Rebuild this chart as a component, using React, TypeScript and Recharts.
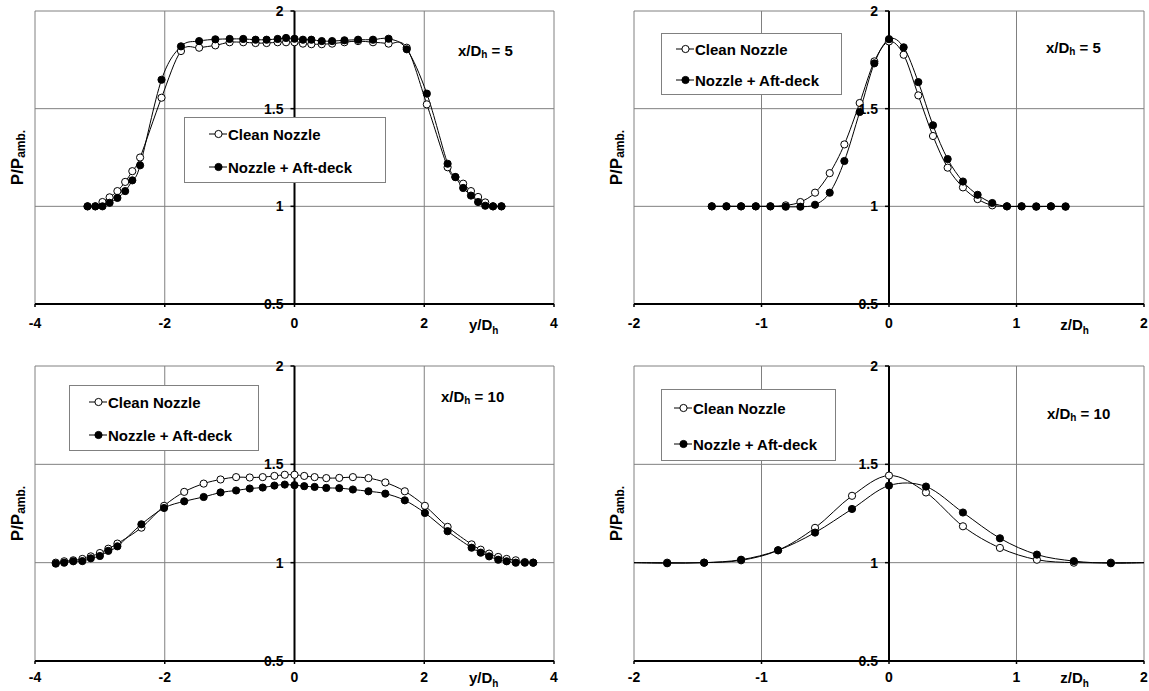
import React from "react";
import {
  LineChart,
  Line,
  XAxis,
  YAxis,
  CartesianGrid,
  ReferenceLine,
  Legend,
  Customized,
} from "recharts";

const FONT = "'Liberation Sans', Arial, Helvetica, sans-serif";

// P/Pamb. profiles
const p1X = [-3.19, -3.07, -2.96, -2.85, -2.73, -2.61, -2.5, -2.38, -2.05, -1.75, -1.47, -1.22, -1.0, -0.79, -0.6, -0.43, -0.26, -0.13, 0, 0.13, 0.26, 0.42, 0.58, 0.77, 0.98, 1.21, 1.45, 1.73, 2.04, 2.36, 2.48, 2.6, 2.72, 2.83, 2.94, 3.06, 3.19];
const p1Clean = [1.0, 1.0, 1.022, 1.046, 1.078, 1.125, 1.18, 1.25, 1.556, 1.795, 1.812, 1.824, 1.84, 1.84, 1.836, 1.836, 1.84, 1.84, 1.84, 1.833, 1.83, 1.83, 1.833, 1.84, 1.846, 1.84, 1.833, 1.812, 1.522, 1.2, 1.15, 1.116, 1.078, 1.048, 1.02, 1.0, 1.0];
const p1Deck = [1.0, 1.0, 1.0, 1.018, 1.043, 1.078, 1.133, 1.21, 1.648, 1.819, 1.846, 1.855, 1.857, 1.857, 1.853, 1.853, 1.857, 1.862, 1.858, 1.853, 1.853, 1.846, 1.846, 1.85, 1.853, 1.853, 1.858, 1.804, 1.577, 1.218, 1.15, 1.094, 1.055, 1.022, 1.003, 1.0, 1.0];

const p2X = [-1.39, -1.275, -1.16, -1.045, -0.93, -0.81, -0.695, -0.58, -0.465, -0.35, -0.23, -0.115, 0, 0.115, 0.23, 0.345, 0.46, 0.58, 0.695, 0.81, 0.925, 1.04, 1.155, 1.27, 1.385];
const p2Clean = [1, 1, 1, 1, 1, 1.005, 1.022, 1.07, 1.17, 1.317, 1.529, 1.742, 1.844, 1.776, 1.568, 1.36, 1.198, 1.097, 1.037, 1.005, 1, 1, 1, 1, 1];
const p2Deck = [1, 1, 1, 1, 1, 0.998, 0.998, 1.008, 1.07, 1.232, 1.483, 1.732, 1.856, 1.814, 1.636, 1.415, 1.242, 1.127, 1.059, 1.017, 1, 1, 0.998, 1, 0.998];

const p3X = [-3.68, -3.55, -3.41, -3.27, -3.14, -3.0, -2.87, -2.73, -2.36, -2.01, -1.7, -1.4, -1.14, -0.9, -0.69, -0.49, -0.31, -0.15, 0, 0.15, 0.31, 0.49, 0.69, 0.9, 1.14, 1.4, 1.7, 2.01, 2.36, 2.73, 2.87, 3.0, 3.14, 3.27, 3.41, 3.55, 3.68];
const p3Clean = [1.0, 1.007, 1.012, 1.019, 1.032, 1.049, 1.071, 1.097, 1.178, 1.289, 1.36, 1.402, 1.423, 1.435, 1.433, 1.435, 1.441, 1.447, 1.447, 1.441, 1.435, 1.43, 1.431, 1.435, 1.43, 1.408, 1.363, 1.289, 1.182, 1.093, 1.066, 1.046, 1.029, 1.019, 1.012, 1.003, 1.0];
const p3Deck = [0.995, 1.0, 1.007, 1.008, 1.022, 1.034, 1.06, 1.083, 1.195, 1.278, 1.312, 1.334, 1.357, 1.367, 1.377, 1.382, 1.392, 1.397, 1.394, 1.389, 1.385, 1.38, 1.379, 1.372, 1.363, 1.351, 1.317, 1.253, 1.16, 1.076, 1.051, 1.032, 1.015, 1.007, 1.0, 1.0, 1.0];

const p4X = [-2.03, -1.74, -1.45, -1.16, -0.87, -0.58, -0.29, 0, 0.29, 0.58, 0.87, 1.16, 1.45, 1.74, 2.03];
const p4Clean = [1, 1, 1, 1.012, 1.063, 1.177, 1.34, 1.443, 1.357, 1.185, 1.075, 1.015, 1, 1, 1];
const p4Deck = [1, 0.997, 1, 1.015, 1.063, 1.153, 1.273, 1.392, 1.387, 1.255, 1.124, 1.041, 1.008, 0.997, 1];

const yTicks = [0.5, 1, 1.5, 2];
const xTicksWide = [-4, -2, 0, 2, 4];
const xTicksNarrow = [-2, -1, 0, 1, 2];

const rows = (xs: number[], clean: number[], deck: number[]) =>
  xs.map((x, i) => ({ x, clean: clean[i], deck: deck[i] }));

// Excel-style smoothed line (uniform Catmull-Rom as cubic beziers)
const excelSmooth = (context: any) => {
  let pts: number[][] = [];
  return {
    areaStart() {},
    areaEnd() {},
    lineStart() {
      pts = [];
    },
    point(x: number, y: number) {
      pts.push([+x, +y]);
    },
    lineEnd() {
      if (!pts.length) return;
      context.moveTo(pts[0][0], pts[0][1]);
      for (let i = 0; i < pts.length - 1; i++) {
        const p0 = pts[Math.max(i - 1, 0)];
        const p1 = pts[i];
        const p2 = pts[i + 1];
        const p3 = pts[Math.min(i + 2, pts.length - 1)];
        context.bezierCurveTo(
          p1[0] + (p2[0] - p0[0]) / 6,
          p1[1] + (p2[1] - p0[1]) / 6,
          p2[0] - (p3[0] - p1[0]) / 6,
          p2[1] - (p3[1] - p1[1]) / 6,
          p2[0],
          p2[1]
        );
      }
    },
  };
};

const panels = [
  {
    left: 0, top: 0, w: 575, h: 345,
    margin: { top: 11, right: 21, bottom: 11, left: 34 },
    domain: [-4, 4], ticks: xTicksWide, data: rows(p1X, p1Clean, p1Deck),
    axis: "y", note: "5", noteX: 458, noteY: 50, tickGap: 11, titleDy: 26,
    legend: { left: 184, top: 117, w: 202, h: 66, pad: 25, row: 16, gap: 33 },
  },
  {
    left: 575, top: 0, w: 574, h: 345,
    margin: { top: 11, right: 5, bottom: 11, left: 58 },
    domain: [-2, 2], ticks: xTicksNarrow, data: rows(p2X, p2Clean, p2Deck),
    axis: "z", note: "5", noteX: 471, noteY: 47, tickGap: 11, titleDy: 26,
    legend: { left: 86, top: 33, w: 181, h: 62, pad: 15, row: 15, gap: 31 },
  },
  {
    left: 0, top: 345, w: 575, h: 346,
    margin: { top: 21, right: 21, bottom: 0, left: 34 },
    domain: [-4, 4], ticks: xTicksWide, data: rows(p3X, p3Clean, p3Deck),
    axis: "y", note: "10", noteX: 441, noteY: 51, tickGap: 8, titleDy: 22,
    legend: { left: 69, top: 40, w: 190, h: 66, pad: 20, row: 16, gap: 33 },
  },
  {
    left: 575, top: 345, w: 574, h: 346,
    margin: { top: 21, right: 5, bottom: 0, left: 58 },
    domain: [-2, 2], ticks: xTicksNarrow, data: rows(p4X, p4Clean, p4Deck),
    axis: "z", note: "10", noteX: 472, noteY: 68, tickGap: 8, titleDy: 22,
    legend: { left: 86, top: 44, w: 175, h: 72, pad: 13, row: 18, gap: 36 },
  },
];

const bold = { fontFamily: FONT, fontWeight: "bold" as const, fill: "#000" };

const Note = ({ x, y, value }: any) => (
  <text x={x} y={y} dominantBaseline="central" fontSize={15} {...bold}>
    x/D<tspan fontSize={10} dy={4}>h</tspan>
    <tspan dy={-4}>{" = " + value}</tspan>
  </text>
);

const LegendBox = ({ cfg, payload }: any) => (
  <div
    style={{
      width: cfg.w, height: cfg.h, boxSizing: "border-box", border: "1px solid #808080",
      background: "#fff", position: "relative", fontFamily: FONT, fontWeight: "bold",
      fontSize: 15, color: "#000",
    }}
  >
    {(payload || []).map((entry: any, i: number) => (
      <div
        key={entry.value}
        style={{
          position: "absolute", left: cfg.pad - 1, top: cfg.row + i * cfg.gap - 10,
          height: 20, display: "flex", alignItems: "center", whiteSpace: "nowrap",
        }}
      >
        <svg width={18} height={10} style={{ marginRight: 1 }}>
          <line x1={0} y1={5} x2={18} y2={5} stroke="#000" strokeWidth={1} />
          <circle cx={9.5} cy={5} r={3.6} fill={entry.dataKey === "clean" ? "#fff" : "#000"} stroke="#000" strokeWidth={1} />
        </svg>
        <span>{entry.value}</span>
      </div>
    ))}
  </div>
);

function Panel({ cfg }: any) {
  const { w, h, margin } = cfg;
  const plotLeft = margin.left + 1;
  const plotW = w - plotLeft - margin.right;
  const plotH = h - margin.top - margin.bottom - 30;
  const axisX = plotLeft + plotW / 2;

  const yTick = (props: any) => (
    <g>
      <line x1={axisX - 4} x2={axisX} y1={props.y} y2={props.y} stroke="#000" strokeWidth={1.5} />
      <text x={axisX - 11} y={props.y} textAnchor="end" dominantBaseline="central" fontSize={14} {...bold}>
        {props.payload.value}
      </text>
    </g>
  );

  const xTick = (props: any) => (
    <text x={props.x} y={props.y} dy={10} textAnchor="middle" fontSize={14} {...bold}>
      {props.payload.value}
    </text>
  );

  const yTitle = () => {
    const cx = plotLeft - 18;
    const cy = margin.top + plotH / 2;
    return (
      <text x={cx} y={cy} transform={`rotate(-90, ${cx}, ${cy})`} textAnchor="middle" dominantBaseline="central" fontSize={17} {...bold}>
        P/P<tspan fontSize={12} dy={4}>amb.</tspan>
      </text>
    );
  };

  const xTitle = () => (
    <text x={plotLeft + plotW * 0.836} y={margin.top + plotH + cfg.titleDy} fontSize={15} {...bold}>
      {cfg.axis}/D<tspan fontSize={10} dy={4}>h</tspan>
    </text>
  );

  return (
    <div style={{ position: "absolute", left: cfg.left, top: cfg.top }}>
      <LineChart width={w} height={h} data={cfg.data} margin={margin}>
        <CartesianGrid stroke="#808080" strokeWidth={1} />
        <XAxis
          type="number"
          dataKey="x"
          domain={cfg.domain}
          ticks={cfg.ticks}
          interval={0}
          allowDataOverflow
          height={30}
          axisLine={{ stroke: "#000", strokeWidth: 2 }}
          tickLine={{ stroke: "#000", strokeWidth: 1.5 }}
          tickSize={3}
          tickMargin={cfg.tickGap}
          tick={xTick}
          label={{ content: xTitle }}
        />
        <YAxis
          type="number"
          domain={[0.5, 2]}
          ticks={yTicks}
          interval={0}
          width={1}
          axisLine={false}
          tickLine={false}
          tick={yTick}
          label={{ content: yTitle }}
        />
        <ReferenceLine x={0} stroke="#000" strokeWidth={2} />
        <Legend
          layout="vertical"
          align="center"
          verticalAlign="middle"
          content={(props: any) => <LegendBox cfg={cfg.legend} payload={props.payload} />}
          wrapperStyle={{ left: cfg.legend.left, top: cfg.legend.top, width: cfg.legend.w, height: cfg.legend.h }}
        />
        <Line
          dataKey="clean"
          name="Clean Nozzle"
          type={excelSmooth as any}
          stroke="#000"
          strokeWidth={1}
          dot={{ r: 3.6, fill: "#fff", stroke: "#000", strokeWidth: 1 }}
          activeDot={false}
          isAnimationActive={false}
        />
        <Line
          dataKey="deck"
          name="Nozzle + Aft-deck"
          type={excelSmooth as any}
          stroke="#000"
          strokeWidth={1}
          dot={{ r: 3.6, fill: "#000", stroke: "#000", strokeWidth: 1 }}
          activeDot={false}
          isAnimationActive={false}
        />
        <Customized component={<Note x={cfg.noteX} y={cfg.noteY} value={cfg.note} />} />
      </LineChart>
    </div>
  );
}

export default function App() {
  return (
    <div style={{ position: "absolute", left: 0, top: 0, width: 1149, height: 691, background: "#fff" }}>
      {panels.map((cfg, i) => (
        <Panel key={i} cfg={cfg} />
      ))}
    </div>
  );
}
